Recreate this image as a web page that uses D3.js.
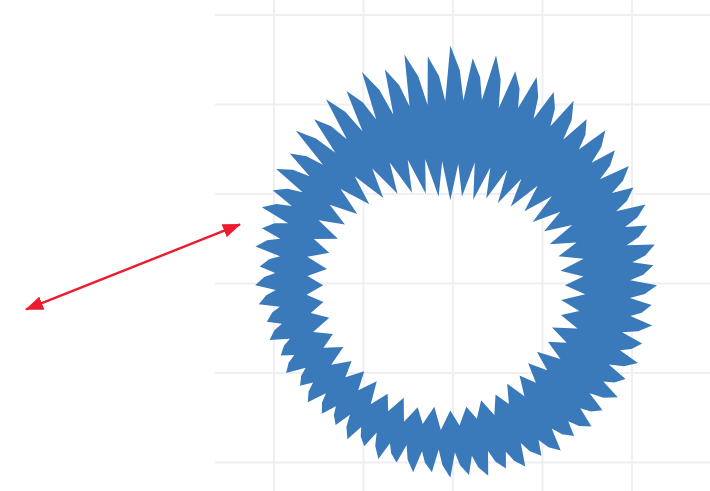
<!DOCTYPE html>
<html>
<head>
<meta charset="utf-8">
<script src="https://cdn.jsdelivr.net/npm/d3@7"></script>
<style>
  body { margin: 0; background: #fff; }
  svg { display: block; }
</style>
</head>
<body>
<div id="chart"></div>
<script>
const width = 710;
const height = 491;

// grid ticks (data units)
const xTicks = [-2, -1, 0, 1, 2];
const yTicks = [-2, -1, 0, 1, 2, 3];

// ring centre (data units)
const ringCenter = [-0.03, -0.02];

// outer edge: 64 teeth, tip radius and valley radius, clockwise from 12 o'clock
const outerTips = [
  2.68, 2.55, 2.62, 2.50, 2.52, 2.45, 2.48, 2.40,
  2.45, 2.38, 2.40, 2.32, 2.36, 2.30, 2.33, 2.28,
  2.31, 2.26, 2.30, 2.24, 2.27, 2.22, 2.25, 2.20,
  2.23, 2.18, 2.22, 2.16, 2.19, 2.14, 2.17, 2.13,
  2.15, 2.10, 2.13, 2.07, 2.10, 2.04, 2.07, 2.02,
  2.03, 2.06, 2.02, 2.08, 2.05, 2.11, 2.09, 2.15,
  2.18, 2.14, 2.22, 2.20, 2.28, 2.25, 2.34, 2.32,
  2.44, 2.40, 2.50, 2.46, 2.58, 2.52, 2.63, 2.57
];
const outerValleys = [
  2.07, 2.10, 2.05, 2.12, 2.08, 2.10, 2.06, 2.09,
  2.09, 2.05, 2.08, 2.03, 2.06, 2.02, 2.05, 2.01,
  2.01, 2.04, 1.99, 2.03, 1.98, 2.02, 1.97, 2.00,
  2.01, 1.96, 1.99, 1.93, 1.96, 1.90, 1.92, 1.87,
  1.84, 1.88, 1.85, 1.89, 1.84, 1.87, 1.83, 1.86,
  1.84, 1.88, 1.86, 1.91, 1.89, 1.93, 1.92, 1.95,
  1.96, 1.93, 1.97, 1.94, 1.98, 1.95, 1.99, 1.96,
  1.96, 2.00, 1.98, 2.03, 2.01, 2.05, 2.03, 2.06
];

// inner edge: 48 teeth pointing into the hole (tips) and gaps (valleys)
const innerTips = [
  0.95, 1.00, 0.99, 1.05, 1.06, 1.11,
  1.17, 1.16, 1.21, 1.20, 1.25, 1.24,
  1.28, 1.25, 1.28, 1.23, 1.26, 1.22,
  1.23, 1.27, 1.27, 1.32, 1.33, 1.37,
  1.40, 1.37, 1.41, 1.36, 1.40, 1.35,
  1.36, 1.39, 1.38, 1.42, 1.40, 1.43,
  1.42, 1.39, 1.40, 1.36, 1.36, 1.31,
  1.28, 1.23, 1.18, 1.12, 1.06, 1.00
];
const innerValleys = [
  1.36, 1.40, 1.39, 1.44, 1.43, 1.48,
  1.51, 1.48, 1.52, 1.49, 1.52, 1.49,
  1.51, 1.47, 1.50, 1.45, 1.48, 1.44,
  1.45, 1.49, 1.48, 1.53, 1.52, 1.57,
  1.62, 1.58, 1.61, 1.57, 1.60, 1.56,
  1.56, 1.60, 1.58, 1.62, 1.59, 1.61,
  1.60, 1.63, 1.61, 1.64, 1.62, 1.63,
  1.62, 1.57, 1.53, 1.48, 1.44, 1.39
];

// double-headed arrow, data units
const arrowStart = [-2.38, 0.66];
const arrowEnd = [-4.77, -0.29];

const x = d3.scaleLinear()
    .domain([-5, 3])
    .range([5.5, 721.5]);
const y = d3.scaleLinear()
    .domain([-3, 3])
    .range([552, 15]);
const r = d3.scaleLinear()
    .domain([0, 1])
    .range([0, x(1) - x(0)]);

const svg = d3.select("#chart").append("svg")
    .attr("width", width)
    .attr("height", height)
    .attr("viewBox", [0, 0, width, height]);

const defs = svg.append("defs");
defs.append("marker")
    .attr("id", "head")
    .attr("viewBox", "0 0 18 14")
    .attr("markerUnits", "userSpaceOnUse")
    .attr("markerWidth", 18)
    .attr("markerHeight", 14)
    .attr("refX", 17)
    .attr("refY", 7)
    .attr("orient", "auto-start-reverse")
  .append("path")
    .attr("d", "M0,0 L18,7 L0,14 Z")
    .attr("fill", "#ec1c2e");

// grid
const grid = svg.append("g")
    .attr("stroke", "#efeff3")
    .attr("stroke-width", 2);

grid.selectAll("line.v")
  .data(xTicks)
  .join("line")
    .attr("class", "v")
    .attr("x1", d => x(d))
    .attr("x2", d => x(d))
    .attr("y1", 0)
    .attr("y2", height);

grid.selectAll("line.h")
  .data(yTicks)
  .join("line")
    .attr("class", "h")
    .attr("x1", 215)
    .attr("x2", width)
    .attr("y1", d => y(d))
    .attr("y2", d => y(d));

// tooth outline: tip, a shoulder part way down, a narrow valley, then a steep rise
function teeth(tips, valleys, sharp) {
  const n = tips.length;
  const a = d3.scaleLinear().domain([0, n]).range([0, 2 * Math.PI]);
  const pts = [];
  tips.forEach((t, i) => {
    const v = valleys[i];
    pts.push({angle: a(i), v: t});
    if (sharp) {
      pts.push({angle: a(i + 0.45), v: v + 0.55 * (t - v)});
      pts.push({angle: a(i + 0.72), v: v});
    } else {
      pts.push({angle: a(i + 0.5), v: v});
    }
  });
  return pts;
}

const radial = d3.lineRadial()
    .angle(d => d.angle)
    .radius(d => r(d.v))
    .curve(d3.curveLinearClosed);

const ringPath = radial(teeth(outerTips, outerValleys, true)) +
    radial(teeth(innerTips, innerValleys, false));

svg.append("path")
    .attr("transform", `translate(${x(ringCenter[0])},${y(ringCenter[1])})`)
    .attr("d", ringPath)
    .attr("fill", "#3a7abb")
    .attr("fill-rule", "evenodd");

// arrow
svg.append("line")
    .attr("x1", x(arrowStart[0]))
    .attr("y1", y(arrowStart[1]))
    .attr("x2", x(arrowEnd[0]))
    .attr("y2", y(arrowEnd[1]))
    .attr("stroke", "#ec1c2e")
    .attr("stroke-width", 2.4)
    .attr("marker-start", "url(#head)")
    .attr("marker-end", "url(#head)");
</script>
</body>
</html>
